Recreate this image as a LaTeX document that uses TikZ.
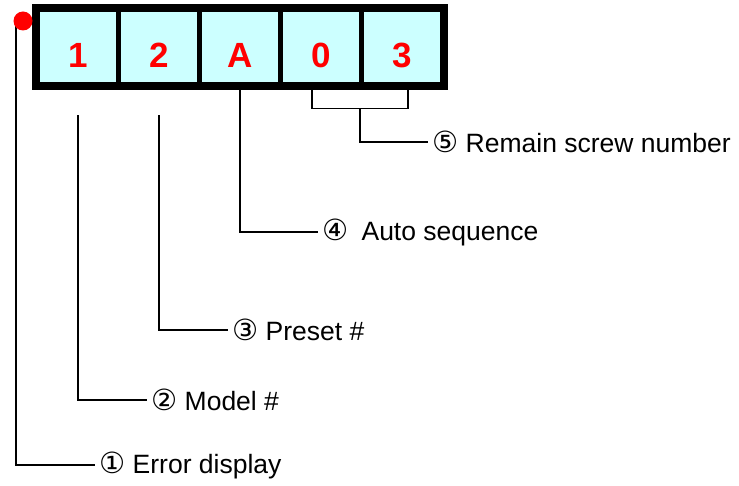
\documentclass[tikz,border=0pt]{standalone}
\usepackage{fontspec}
\setmainfont{Liberation Sans}
\newfontfamily\circfont[Scale=1.1]{DejaVu Sans}
\usetikzlibrary{calc}
\definecolor{cellcyan}{HTML}{CCFFFF}
\definecolor{dotred}{HTML}{FF0000}

\tikzset{
  cellbox/.style={draw, line width=5pt, fill=cellcyan, minimum width=81pt,
    minimum height=75pt, inner sep=0pt, text=red, text height=41pt, text depth=0pt,
    font=\fontsize{35}{40}\selectfont\bfseries},
  callout/.style={anchor=west, inner sep=4pt, font=\fontsize{26.5}{30}\selectfont},
  leader/.style={line width=1.6pt}
}

\begin{document}
\begin{tikzpicture}[x=1pt, y=-1pt]
        \useasboundingbox (0,0) rectangle (739,486);

        % Display cells
        \foreach \ch [count=\i] in {1,2,A,0,3}
          \node[cellbox] (c\i) at (78+81*\i-81, 47.5) {\ch};
        \draw[line width=6pt] (c1.north west) rectangle (c5.south east);

        % Callout texts
        \node[callout] (lab1) at (95, 465) {{\circfont ①} Error display};
        \node[callout] (lab2) at (147, 400) {{\circfont ②} Model \#};
        \node[callout] (lab3) at (228, 330) {{\circfont ③} Preset \#};
        \node[callout] (lab4) at (318, 232) {{\circfont ④}\enspace Auto sequence};
        \node[callout] (lab5) at (428, 142) {{\circfont ⑤} Remain screw number};

        % Error display dot and its leader
        \coordinate (dottop) at (16, 21);
        \draw[leader] (dottop) |- (lab1.west);
        \node[circle, fill=dotred, minimum size=19pt, inner sep=0pt] (dot) at (23, 21) {};

        % Leaders from the cells
        \draw[leader] ([yshift=-28pt]c1.south) |- (lab2.west);
        \draw[leader] ([yshift=-28pt]c2.south) |- (lab3.west);
        \draw[leader] (c3.south) |- (lab4.west);

        % Bracket over the last two cells
        \coordinate (brl) at ([xshift=-9pt]c4.south);
        \coordinate (brr) at ([xshift=6pt]c5.south);
        \draw[leader] (brl) -- ++(0,21) -| (brr);
        \draw[leader] ($(brl)!0.5!(brr)+(0,21)$) |- (lab5.west);
\end{tikzpicture}
\end{document}
